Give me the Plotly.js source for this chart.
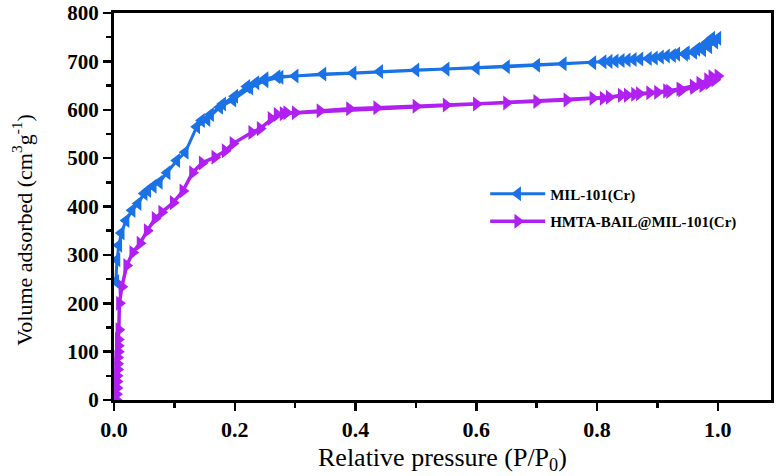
<!DOCTYPE html>
<html>
<head>
<meta charset="utf-8">
<script src="https://cdn.plot.ly/plotly-3.0.1.min.js"></script>
<style>
  html, body { margin: 0; padding: 0; background: #fff; }
  #plot { width: 777px; height: 476px; }
</style>
</head>
<body>
<div id="plot"></div>
<script>
// N2 isotherms, adsorption branch then desorption branch
let milX = [0.003, 0.005, 0.008, 0.012, 0.02, 0.03, 0.04, 0.05, 0.056, 0.065, 0.075, 0.088, 0.104, 0.118,
  0.137, 0.154, 0.175, 0.197, 0.225, 0.25, 0.275, 0.3, 0.346, 0.396, 0.44, 0.5, 0.55, 0.6, 0.65, 0.7,
  0.744, 0.793, 0.81, 0.83, 0.85, 0.871, 0.895, 0.915, 0.932, 0.948, 0.965, 0.975, 0.983, 0.99, 1.0,
  0.995, 0.985, 0.975, 0.96, 0.945, 0.925, 0.905, 0.885, 0.86, 0.84, 0.82,
  0.27, 0.25, 0.235, 0.22, 0.2, 0.18, 0.16, 0.145];
let milY = [245, 290, 320, 345, 371, 392, 406, 427, 433, 442, 450, 470, 495, 512,
  565, 580, 605, 620, 645, 660, 667, 670, 674, 676, 679, 682, 684, 686, 689, 692,
  695, 697, 699, 701, 703, 705, 707, 711, 715, 718, 725, 732, 740, 748, 748,
  740, 730, 724, 719, 715, 712, 709, 706, 704, 702, 700,
  668, 664, 656, 648, 628, 612, 590, 578];

let hmtaX = [0.004, 0.004, 0.005, 0.005, 0.005, 0.006, 0.006, 0.006, 0.007, 0.007, 0.007, 0.008,
  0.009, 0.013, 0.021, 0.031, 0.043, 0.055, 0.068, 0.079,
  0.098, 0.114, 0.13, 0.146, 0.167, 0.184, 0.197, 0.228, 0.242, 0.27, 0.286, 0.3, 0.341, 0.39, 0.435,
  0.5, 0.55, 0.6, 0.65, 0.7, 0.75, 0.793, 0.81, 0.84, 0.862, 0.887, 0.915, 0.937, 0.959, 0.97, 0.983,
  0.99, 1.0,
  0.995, 0.985, 0.975, 0.96, 0.94, 0.92, 0.9, 0.87, 0.85, 0.82, 0.28, 0.26];
let hmtaY = [0, 12, 25, 38, 50, 63, 75, 88, 100, 112, 125, 145,
  200, 234, 278, 305, 324, 350, 375, 388,
  408, 432, 470, 490, 502, 515, 530, 553, 561, 590, 594, 594, 598, 602, 604,
  607, 610, 612, 614, 617, 620, 624, 624, 630, 632, 635, 639, 643, 649, 655, 662,
  668, 670,
  662, 656, 650, 646, 641, 638, 636, 633, 630, 626, 592, 582];

let serif = 'Liberation Serif, Times New Roman, serif';

let data = [
  {
    x: milX,
    y: milY,
    name: 'MIL-101(Cr)',
    legendgroup: 'mil',
    mode: 'lines+markers',
    line: { color: '#1a72e6', width: 3 },
    marker: { symbol: 'triangle-left', size: 13, color: '#1a72e6' }
  },
  {
    x: hmtaX,
    y: hmtaY,
    name: 'HMTA-BAIL@MIL-101(Cr)',
    legendgroup: 'hmta',
    mode: 'lines+markers',
    line: { color: '#b020f0', width: 3.5 },
    marker: { symbol: 'triangle-right', size: 13, color: '#b020f0' }
  }
];

let axisCommon = {
  showgrid: false,
  zeroline: false,
  showline: true,
  linecolor: '#000',
  linewidth: 3,
  mirror: true,
  ticks: 'outside',
  ticklen: 8,
  tickwidth: 2.5,
  tickcolor: '#000',
  ticklabeloverflow: 'allow'
};

let layout = {
  width: 777,
  height: 476,
  paper_bgcolor: '#fff',
  plot_bgcolor: '#fff',
  margin: { l: 114, r: 6, t: 13, b: 76 },
  xaxis: Object.assign({}, axisCommon, {
    range: [0, 1.088],
    tickvals: [0, 0.2, 0.4, 0.6, 0.8, 1.0],
    tickformat: '.1f',
    tickfont: { family: serif, size: 22, color: '#000', weight: 'bold' },
    minor: { dtick: 0.1, tick0: 0, ticks: 'outside', ticklen: 5, tickwidth: 2.5, tickcolor: '#000' }
  }),
  yaxis: Object.assign({}, axisCommon, {
    range: [0, 800],
    dtick: 100,
    tickfont: { family: serif, size: 21, color: '#000', weight: 'bold' },
    minor: { dtick: 50, tick0: 0, ticks: 'outside', ticklen: 5, tickwidth: 2.5, tickcolor: '#000' }
  }),
  annotations: [
    {
      text: 'Relative pressure (P/P<sub>0</sub>)',
      xref: 'paper', yref: 'paper',
      x: 0.5, y: 0,
      xanchor: 'center', yanchor: 'middle',
      yshift: -59,
      showarrow: false,
      font: { family: serif, size: 26, color: '#000' }
    },
    {
      text: 'Volume adsorbed (cm<sup>3</sup>g<sup>-1</sup>)',
      xref: 'paper', yref: 'paper',
      x: 0, y: 0.44,
      xanchor: 'center', yanchor: 'middle',
      xshift: -92,
      textangle: -90,
      showarrow: false,
      font: { family: serif, size: 22, color: '#000' }
    }
  ],
  showlegend: true,
  legend: {
    x: 0.565,
    y: 0.575,
    xanchor: 'left',
    yanchor: 'top',
    bgcolor: 'rgba(0,0,0,0)',
    itemwidth: 55,
    tracegroupgap: 5,
    font: { family: serif, size: 15, color: '#000', weight: 'bold' }
  }
};

Plotly.newPlot('plot', data, layout, { staticPlot: true });
</script>
</body>
</html>
